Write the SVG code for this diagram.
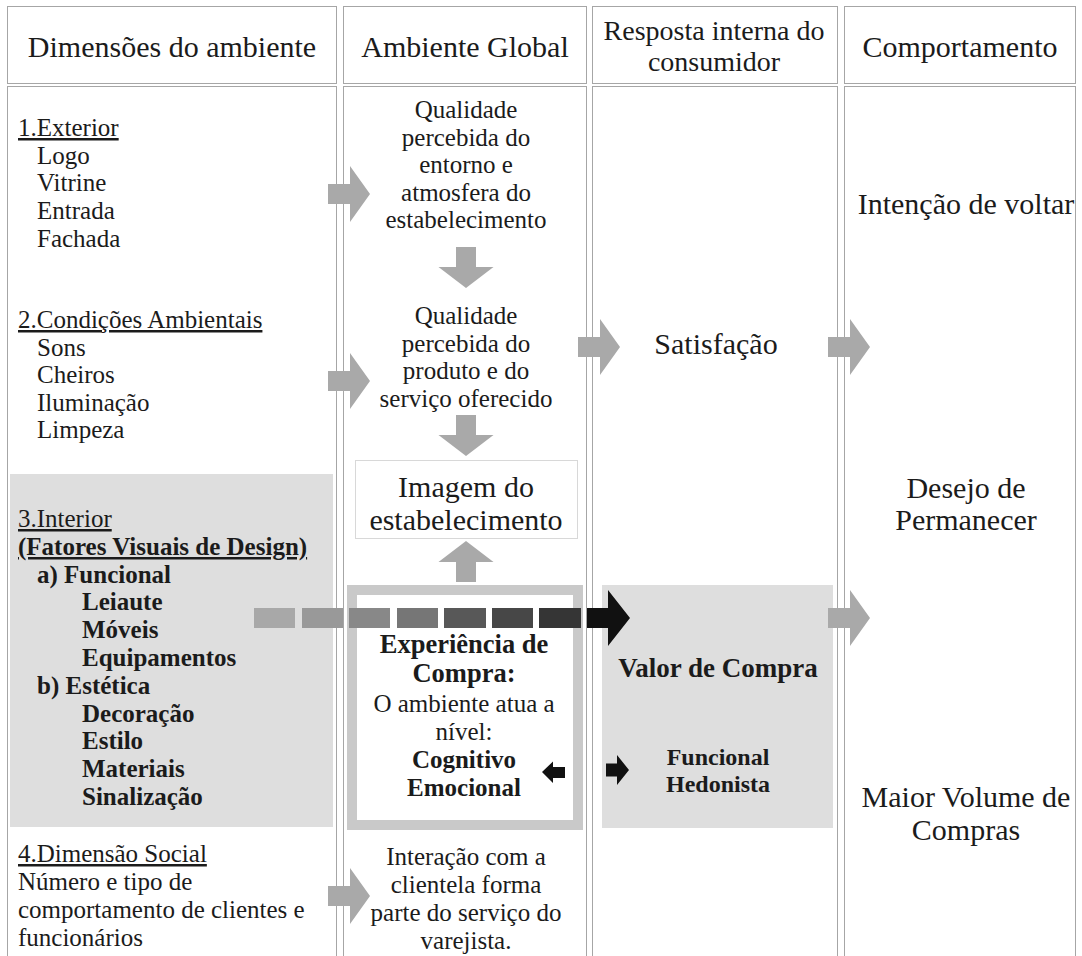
<svg xmlns="http://www.w3.org/2000/svg" width="1082" height="956" viewBox="0 0 1082 956">
  <style>
    .t{font-family:"Liberation Serif","Times New Roman",serif;fill:#1b1b1b}
    .hd{font-size:30px;text-anchor:middle}
    .s25{font-size:25px}
    .s30{font-size:30px}
    .c{text-anchor:middle}
    .b{font-weight:bold}
    .u{text-decoration:underline}
    .frame{fill:#fff;stroke:#a6a6a6;stroke-width:1}
    .garr{fill:#a9a9a9}
    .karr{fill:#111}
  </style>
  <defs>
    <!-- block arrows drawn with the tail at the origin -->
    <path id="arrR" d="M0,-10 H22 V-28 L42,0 L22,28 V10 H0 Z"/>
    <path id="arrD" d="M-10,0 H10 V20 H27.5 L0,41 L-27.5,20 H-10 Z"/>
  </defs>

  <rect width="1082" height="956" fill="#fff"/>

  <!-- column frames -->
  <g id="columns">
    <rect class="frame" x="7.5" y="6.5" width="329" height="77"/>
    <rect class="frame" x="343.5" y="6.5" width="243" height="77"/>
    <rect class="frame" x="592.5" y="6.5" width="245" height="77"/>
    <rect class="frame" x="844.5" y="6.5" width="231" height="77"/>
    <rect class="frame" x="7.5" y="86.5" width="329" height="880"/>
    <rect class="frame" x="343.5" y="86.5" width="243" height="880"/>
    <rect class="frame" x="592.5" y="86.5" width="245" height="880"/>
    <rect class="frame" x="844.5" y="86.5" width="231" height="880"/>
  </g>

  <g id="headers" class="t">
    <text class="hd" x="172" y="57">Dimensões do ambiente</text>
    <text class="hd" x="465" y="57">Ambiente Global</text>
    <text class="hd" x="714" y="40" style="font-size:28px">Resposta interna do</text>
    <text class="hd" x="714" y="71" style="font-size:28px">consumidor</text>
    <text class="hd" x="960" y="57">Comportamento</text>
  </g>

  <!-- column 1: environment dimensions -->
  <g id="dim-exterior" class="t s25">
    <text class="u" x="18" y="136">1.Exterior</text>
    <text x="37" y="164">Logo</text>
    <text x="37" y="191">Vitrine</text>
    <text x="37" y="219">Entrada</text>
    <text x="37" y="247">Fachada</text>
  </g>

  <g id="dim-ambientais" class="t s25">
    <text class="u" x="18" y="328">2.Condições Ambientais</text>
    <text x="37" y="356">Sons</text>
    <text x="37" y="383">Cheiros</text>
    <text x="37" y="411">Iluminação</text>
    <text x="37" y="438">Limpeza</text>
  </g>

  <g id="dim-interior">
    <rect x="10" y="474" width="323" height="353" fill="#dedede"/>
    <g class="t s25">
      <text class="u" x="18" y="527">3.Interior</text>
      <text class="b u" x="18" y="555">(Fatores Visuais de Design)</text>
      <text class="b" x="37" y="583">a) Funcional</text>
      <text class="b" x="82" y="610">Leiaute</text>
      <text class="b" x="82" y="638">Móveis</text>
      <text class="b" x="82" y="666">Equipamentos</text>
      <text class="b" x="37" y="694">b) Estética</text>
      <text class="b" x="82" y="722">Decoração</text>
      <text class="b" x="82" y="749">Estilo</text>
      <text class="b" x="82" y="777">Materiais</text>
      <text class="b" x="82" y="805">Sinalização</text>
    </g>
  </g>

  <g id="dim-social" class="t s25">
    <text class="u" x="18" y="862">4.Dimensão Social</text>
    <text x="18" y="890">Número e tipo de</text>
    <text x="18" y="918">comportamento de clientes e</text>
    <text x="18" y="946">funcionários</text>
  </g>

  <!-- column 2: global environment -->
  <g id="qual-entorno" class="t s25 c">
    <text x="466" y="118">Qualidade</text>
    <text x="466" y="146">percebida do</text>
    <text x="466" y="173">entorno e</text>
    <text x="466" y="201">atmosfera do</text>
    <text x="466" y="228">estabelecimento</text>
  </g>

  <g id="qual-produto" class="t s25 c">
    <text x="466" y="324">Qualidade</text>
    <text x="466" y="352">percebida do</text>
    <text x="466" y="379">produto e do</text>
    <text x="466" y="407">serviço oferecido</text>
  </g>

  <g id="imagem">
    <rect x="355.5" y="460.5" width="222" height="78" fill="#fff" stroke="#d8d8d8"/>
    <text class="t s30 c" x="466" y="497">Imagem do</text>
    <text class="t s30 c" x="466" y="530">estabelecimento</text>
  </g>

  <g id="experiencia">
    <rect x="352" y="590" width="226" height="235" fill="#fff" stroke="#c9c9c9" stroke-width="10"/>
    <g class="t s25 c">
      <text class="b" style="font-size:26.5px" x="464" y="653">Experiência de</text>
      <text class="b" style="font-size:26.5px" x="464" y="682">Compra:</text>
      <text x="464" y="712">O ambiente atua a</text>
      <text x="464" y="740">nível:</text>
      <text class="b" x="464" y="768">Cognitivo</text>
      <text class="b" x="464" y="796">Emocional</text>
    </g>
  </g>

  <g id="interacao" class="t s25 c">
    <text x="466" y="865">Interação com a</text>
    <text x="466" y="893">clientela forma</text>
    <text x="466" y="921">parte do serviço do</text>
    <text x="466" y="949">varejista.</text>
  </g>

  <!-- column 3: internal response -->
  <g id="satisfacao">
    <text class="t s30 c" x="716" y="354">Satisfação</text>
  </g>

  <g id="valor">
    <rect x="602" y="585" width="231" height="243" fill="#dedede"/>
    <text class="t b c" style="font-size:27px" x="718" y="677">Valor de Compra</text>
    <text class="t b c" style="font-size:24px" x="718" y="765">Funcional</text>
    <text class="t b c" style="font-size:24px" x="718" y="792">Hedonista</text>
  </g>

  <!-- column 4: behaviour -->
  <g id="voltar">
    <text class="t s30 c" x="966" y="214">Intenção de voltar</text>
  </g>
  <g id="permanecer" class="t s30 c">
    <text x="966" y="498">Desejo de</text>
    <text x="966" y="530">Permanecer</text>
  </g>
  <g id="volume" class="t s30 c">
    <text x="966" y="807">Maior Volume de</text>
    <text x="966" y="840">Compras</text>
  </g>

  <!-- connectors -->
  <g id="connectors">
    <use href="#arrR" class="garr" x="328" y="194"/>
    <use href="#arrR" class="garr" x="328" y="381"/>
    <use href="#arrR" class="garr" x="328" y="896"/>
    <use href="#arrR" class="garr" x="578" y="347"/>
    <use href="#arrR" class="garr" x="828" y="347"/>
    <use href="#arrR" class="garr" x="828" y="618"/>
    <use href="#arrD" class="garr" x="466" y="247"/>
    <use href="#arrD" class="garr" x="466" y="415"/>
    <use href="#arrD" class="garr" transform="translate(466,582) scale(1,-1)"/>

    <!-- graded dashed flow into the purchase value -->
    <rect x="254" y="608" width="41" height="20" fill="#a8a8a8"/>
    <rect x="302" y="608" width="41" height="20" fill="#999"/>
    <rect x="349" y="608" width="41" height="20" fill="#888"/>
    <rect x="397" y="608" width="41" height="20" fill="#767676"/>
    <rect x="444" y="608" width="42" height="20" fill="#585858"/>
    <rect x="492" y="608" width="41" height="20" fill="#474747"/>
    <rect x="539" y="608" width="42" height="20" fill="#353535"/>
    <path class="karr" d="M587,608 H608 V590 L630,618 L608,646 V628 H587 Z"/>

    <path class="karr" d="M565,767 H553 V761.5 L542,772 L553,783 V778 H565 Z"/>
    <path class="karr" d="M606,763.5 H617 V755 L629,770 L617,785 V776.5 H606 Z"/>
  </g>
</svg>
